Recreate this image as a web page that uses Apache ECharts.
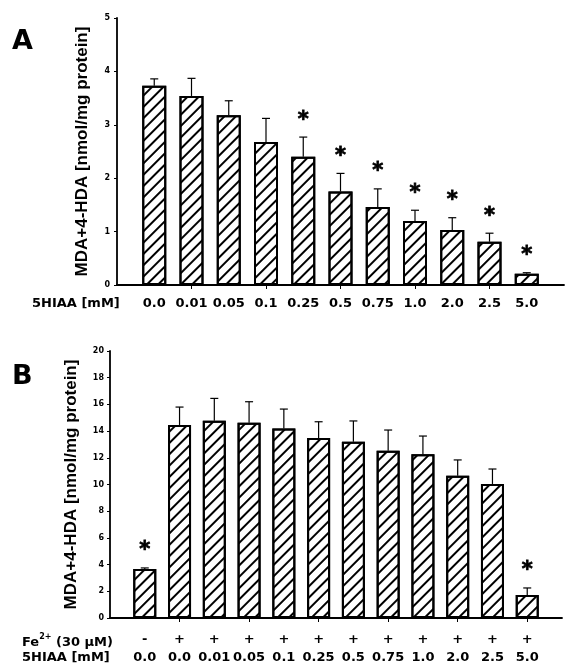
<!DOCTYPE html>
<html>
<head>
<meta charset="utf-8">
<script src="https://cdn.jsdelivr.net/npm/echarts@6/dist/echarts.min.js"></script>
<style>
  html, body { margin: 0; padding: 0; background: #fff; }
  #chart { width: 567px; height: 668px; }
</style>
</head>
<body>
<div id="chart"></div>
<script>
// panel A: 5HIAA alone
const aDose = ['0.0', '0.01', '0.05', '0.1', '0.25', '0.5', '0.75', '1.0', '2.0', '2.5', '5.0']
const aMean = [3.73, 3.54, 3.18, 2.68, 2.40, 1.75, 1.46, 1.20, 1.03, 0.81, 0.21]
const aSd = [0.13, 0.33, 0.27, 0.44, 0.37, 0.34, 0.34, 0.20, 0.23, 0.16, 0.02]
const aSig = [0, 0, 0, 0, 1, 1, 1, 1, 1, 1, 1]
const aYMax = 5
const aYStep = 1

// panel B: Fe2+ + 5HIAA
const bFe = ['-', '+', '+', '+', '+', '+', '+', '+', '+', '+', '+', '+']
const bDose = ['0.0', '0.0', '0.01', '0.05', '0.1', '0.25', '0.5', '0.75', '1.0', '2.0', '2.5', '5.0']
const bMean = [3.67, 14.46, 14.78, 14.63, 14.20, 13.48, 13.20, 12.53, 12.26, 10.66, 10.04, 1.72]
const bSd = [0.08, 1.34, 1.67, 1.57, 1.45, 1.22, 1.56, 1.55, 1.37, 1.18, 1.12, 0.53]
const bSig = [1, 0, 0, 0, 0, 0, 0, 0, 0, 0, 0, 1]
const bYMax = 20
const bYStep = 2

const yTitle = 'MDA+4-HDA [nmol/mg protein]'
const FONT = '"DejaVu Sans", sans-serif'

const hatch = {
  symbol: 'rect',
  symbolSize: 1,
  color: '#000',
  dashArrayX: [1, 0],
  dashArrayY: [1.7, 5.3],
  rotation: -Math.PI / 4
}

function errBars(params, api) {
  const i = api.value(0)
  const m = api.value(1)
  const sd = api.value(2)
  const sig = api.value(3)
  const base = api.coord([i, m])
  const top = api.coord([i, m + sd])
  const kids = [
    { type: 'line', shape: { x1: base[0], y1: base[1], x2: top[0], y2: top[1] }, style: { stroke: '#000', lineWidth: 1.2 } },
    { type: 'line', shape: { x1: top[0] - 4, y1: top[1], x2: top[0] + 4, y2: top[1] }, style: { stroke: '#000', lineWidth: 1.2 } }
  ]
  if (sig) {
    kids.push({
      type: 'text',
      x: top[0],
      y: top[1] - 17,
      style: { text: '*', fontSize: 21, fontWeight: 'bold', fontFamily: FONT, fill: '#000', stroke: '#000', lineWidth: 0.8, align: 'center', verticalAlign: 'middle' }
    })
  }
  return { type: 'group', children: kids }
}

const pad = arr => [''].concat(arr, [''])
const padData = arr => ['-'].concat(arr, ['-'])
const evenTicks = n => (idx) => idx > 0 && idx < n - 1 && idx % 2 === 0

const axisLine = { show: true, lineStyle: { color: '#000', width: 1.8 } }

const aCats = pad(aDose)
const bCats = pad(bDose.map((d, k) => bFe[k] + '\n' + d))

const chart = echarts.init(document.getElementById('chart'))
chart.setOption({
  animation: false,
  backgroundColor: '#fff',
  grid: [
    { left: 117, top: 18, width: 450, height: 267 },
    { left: 110, top: 351, width: 452, height: 267 }
  ],
  xAxis: [
    {
      gridIndex: 0,
      type: 'category',
      data: aCats,
      boundaryGap: false,
      axisLine: axisLine,
      axisTick: { show: true, length: 4, interval: evenTicks(aCats.length), lineStyle: { color: '#000', width: 1 } },
      axisLabel: { interval: 0, margin: 12, color: '#000', fontSize: 13, fontWeight: 'bold', fontFamily: FONT }
    },
    {
      gridIndex: 1,
      type: 'category',
      data: bCats,
      boundaryGap: false,
      axisLine: axisLine,
      axisTick: { show: true, length: 4, interval: evenTicks(bCats.length), lineStyle: { color: '#000', width: 1 } },
      axisLabel: { interval: 0, margin: 13, lineHeight: 18, color: '#000', fontSize: 13, fontWeight: 'bold', fontFamily: FONT }
    }
  ],
  yAxis: [
    {
      gridIndex: 0,
      type: 'value',
      min: 0, max: aYMax, interval: aYStep,
      name: yTitle, nameLocation: 'middle', nameGap: 26,
      nameTextStyle: { color: '#000', fontSize: 17, fontWeight: 'bold', fontFamily: '"Liberation Sans", Arial, sans-serif' },
      axisLine: axisLine,
      axisTick: { show: true, length: 3, lineStyle: { color: '#000', width: 1 } },
      axisLabel: { margin: 7, color: '#000', fontSize: 8, fontWeight: 'bold', fontFamily: FONT },
      splitLine: { show: false }
    },
    {
      gridIndex: 1,
      type: 'value',
      min: 0, max: bYMax, interval: bYStep,
      name: yTitle, nameLocation: 'middle', nameGap: 30,
      nameTextStyle: { color: '#000', fontSize: 17, fontWeight: 'bold', fontFamily: '"Liberation Sans", Arial, sans-serif' },
      axisLine: axisLine,
      axisTick: { show: true, length: 3, lineStyle: { color: '#000', width: 1 } },
      axisLabel: { margin: 6, color: '#000', fontSize: 8, fontWeight: 'bold', fontFamily: FONT },
      splitLine: { show: false }
    }
  ],
  graphic: [
    { type: 'text', left: 12, top: 28, style: { text: 'A', fontSize: 27, fontWeight: 'bold', fontFamily: FONT, fill: '#000' } },
    { type: 'text', left: 12, top: 363, style: { text: 'B', fontSize: 27, fontWeight: 'bold', fontFamily: FONT, fill: '#000' } },
    { type: 'text', left: 32, top: 297, style: { text: '5HIAA [mM]', fontSize: 13, fontWeight: 'bold', fontFamily: FONT, fill: '#000' } },
    {
      type: 'text', left: 22, top: 633,
      style: {
        text: '{n|Fe}{s|2+}{n| (30 µM)}',
        fill: '#000',
        rich: {
          n: { fontSize: 13, fontWeight: 'bold', fontFamily: FONT, lineHeight: 16, verticalAlign: 'bottom' },
          s: { fontSize: 8, fontWeight: 'bold', fontFamily: FONT, lineHeight: 12, verticalAlign: 'top' }
        }
      }
    },
    { type: 'text', left: 22, top: 651, style: { text: '5HIAA [mM]', fontSize: 13, fontWeight: 'bold', fontFamily: FONT, fill: '#000' } }
  ],
  series: [
    {
      type: 'bar',
      xAxisIndex: 0, yAxisIndex: 0,
      data: padData(aMean),
      barWidth: 24,
      itemStyle: { color: '#fff', borderColor: '#000', borderWidth: 2, decal: hatch }
    },
    {
      type: 'custom',
      xAxisIndex: 0, yAxisIndex: 0,
      renderItem: errBars,
      clip: false,
      z: 5,
      data: aMean.map((m, k) => [k + 1, m, aSd[k], aSig[k]])
    },
    {
      type: 'bar',
      xAxisIndex: 1, yAxisIndex: 1,
      data: padData(bMean),
      barWidth: 23,
      itemStyle: { color: '#fff', borderColor: '#000', borderWidth: 2, decal: hatch }
    },
    {
      type: 'custom',
      xAxisIndex: 1, yAxisIndex: 1,
      renderItem: errBars,
      clip: false,
      z: 5,
      data: bMean.map((m, k) => [k + 1, m, bSd[k], bSig[k]])
    }
  ]
})
</script>
</body>
</html>
